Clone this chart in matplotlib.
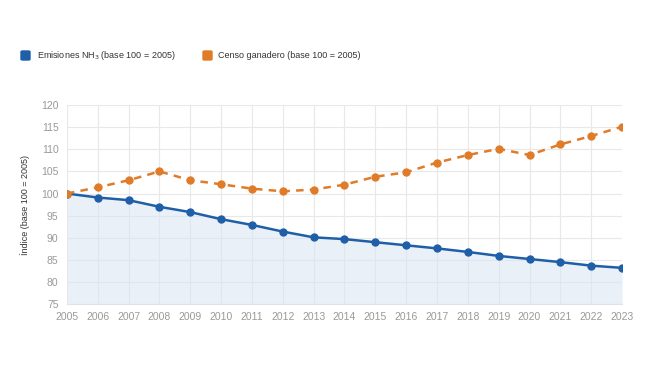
import matplotlib.pyplot as plt
from matplotlib.patches import FancyBboxPatch

plt.rcParams['font.family'] = ['Liberation Sans', 'DejaVu Sans']

years = list(range(2005, 2024))
emisiones = [100, 99.1, 98.5, 97.0, 95.8, 94.2, 92.9, 91.4, 90.1, 89.7,
             89.0, 88.3, 87.6, 86.8, 85.9, 85.2, 84.5, 83.7, 83.2]
censo = [100, 101.4, 103.0, 105.0, 103.0, 102.1, 101.1, 100.5, 100.9, 102.0,
         103.8, 104.8, 107.0, 108.7, 110.1, 108.7, 111.1, 113.0, 115.1]
yticks = list(range(75, 121, 5))

blue = '#1f5fa8'
orange = '#e07b28'
grey = '#999999'

fig = plt.figure(figsize=(6.5, 3.66), dpi=100)
ax = fig.add_axes([0.103, 0.169, 0.854, 0.544])

ax.fill_between(years, emisiones, 75, color='#dce6f3', alpha=0.6, lw=0)
ax.plot(years, emisiones, color=blue, lw=1.8, marker='o', ms=5, zorder=3)
ax.plot(years, censo, color=orange, lw=1.8, ls=(0, (3, 2.5)), marker='o', ms=5, zorder=3)

ax.set_xlim(2005, 2023)
ax.set_ylim(75, 120)
ax.set_xticks(years)
ax.set_yticks(yticks)
ax.tick_params(axis='both', length=0, labelsize=7.5, labelcolor=grey, pad=6)
ax.grid(True, color='#e8e8e8', lw=0.8)
ax.set_axisbelow(True)
for s in ax.spines.values():
    s.set_visible(False)
ax.spines['bottom'].set_visible(True)
ax.spines['bottom'].set_color('#dde3ea')
ax.set_ylabel('Índice (base 100 = 2005)', fontsize=6.5, color='#333333', labelpad=8)

# legend
for x0, col, x1, label in [(21, blue, 37, 'Emisiones NH$_3$ (base 100 = 2005)'),
                           (203, orange, 218, 'Censo ganadero (base 100 = 2005)')]:
    fig.patches.append(FancyBboxPatch((x0 / 650, 1 - 60 / 366), 9 / 650, 9 / 366,
                                      boxstyle='round,pad=0,rounding_size=0.0025',
                                      transform=fig.transFigure, color=col, figure=fig))
    fig.text(x1 / 650, 1 - 55.5 / 366, label, fontsize=6.5, color='#333333', va='center')

fig.savefig('out.png', dpi=100)
